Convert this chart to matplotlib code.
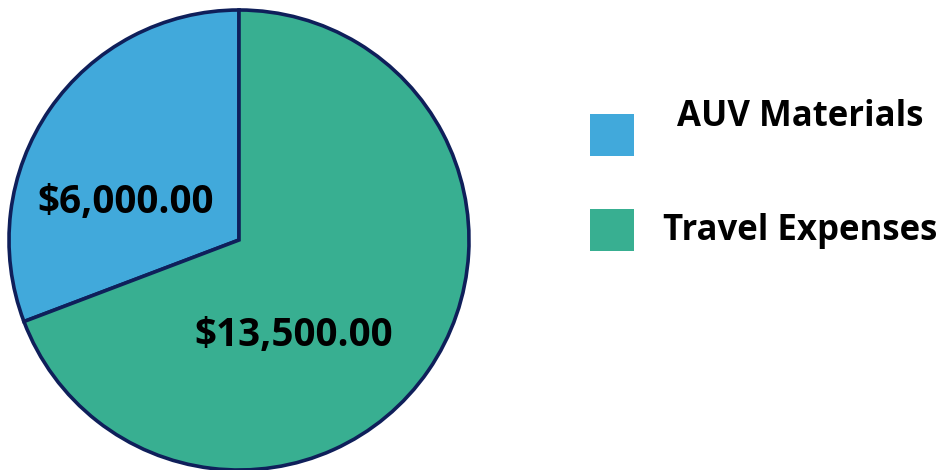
import matplotlib.pyplot as plt
from matplotlib.patches import Rectangle

categories = ["AUV Materials", "Travel Expenses"]
values = [6000.00, 13500.00]
value_labels = ["$6,000.00", "$13,500.00"]
colors = ["#41a9db", "#38af91"]
edge = "#0f1f5a"

plt.rcParams['font.family'] = ['Open Sans', 'DejaVu Sans']

W, H = 943, 470
fig = plt.figure(figsize=(W / 100, H / 100), dpi=100)

# pie: centre (239, 240) px, radius 230 px
cx, cy, r = 239, 240, 230
ax = fig.add_axes([(cx - r) / W, (H - cy - r) / H, 2 * r / W, 2 * r / H])
wedges, _ = ax.pie(values, colors=colors, startangle=90, counterclock=True,
                   wedgeprops=dict(edgecolor=edge, linewidth=2.6))
for w in wedges:
    w.set_clip_on(False)
ax.set_xlim(-1, 1)
ax.set_ylim(-1, 1)
ax.set_aspect('equal')
ax.axis('off')

# value labels (baseline positions in px)
label_pos = [(125.5, 213), (293.5, 346)]
for (px, py), txt in zip(label_pos, value_labels):
    ax.text((px - cx) / r, (cy - py) / r, txt, ha='center', va='baseline',
            fontsize=27.8, fontweight='bold', color='black')

# legend
sq_top = [114, 209]
baselines = [126, 240]
for top, base, c, name in zip(sq_top, baselines, colors, categories):
    fig.patches.append(Rectangle((590 / W, (H - top - 42) / H), 44 / W, 42 / H,
                                 transform=fig.transFigure, facecolor=c,
                                 edgecolor='none'))
    fig.text(800 / W, (H - base) / H, name, ha='center', va='baseline',
             fontsize=25, fontweight='bold', color='black')

fig.savefig("out.png", dpi=100)
